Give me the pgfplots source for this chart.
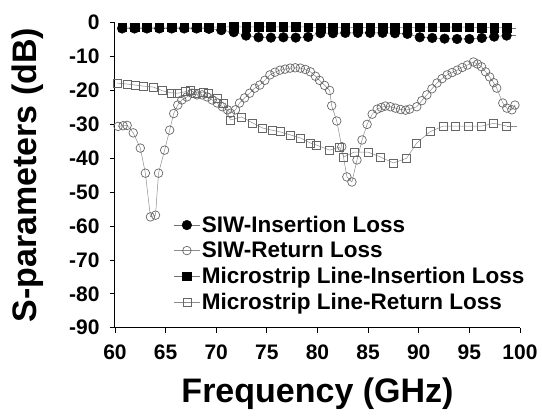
\documentclass[border=0pt]{standalone}
\usepackage{fontspec}
\setmainfont{Liberation Sans}
\usepackage{pgfplots}
\pgfplotsset{compat=1.18}
\begin{document}
\begin{tikzpicture}
\begin{axis}[
 scale only axis, width=405bp, height=305bp,
 xmin=60, xmax=100, ymin=-90, ymax=0,
 axis x line*=bottom, axis y line*=left,
 axis line style={-, line width=1pt},
 xtick={60,65,...,100}, ytick={-90,-80,...,0},
 tick align=outside, major tick length=5bp,
 tick style={black, line width=0.8pt},
 /pgf/number format/assume math mode=true,
 ticklabel style={font=\fontsize{21bp}{24bp}\selectfont\bfseries},
 yticklabel style={xshift=-7bp},
 xticklabel style={yshift=-9bp},
 xlabel={Frequency (GHz)}, ylabel={S-parameters (dB)},
 label style={font=\fontsize{34bp}{40bp}\selectfont\bfseries},
 xlabel style={at={(axis description cs:0.5,-0.215)}, anchor=center},
 ylabel style={at={(axis description cs:-0.215,0.5)}, anchor=center},
 legend style={at={(axis cs:65.5,-56.0)}, anchor=north west, draw=none, fill=none,
   font=\fontsize{22.5bp}{25bp}\selectfont\bfseries, row sep=5bp,
   nodes={inner ysep=1.5bp}},
 legend image code/.code={
   \draw[mark repeat=2,mark phase=2] plot coordinates {(0cm,0cm) (0.45cm,0cm) (0.9cm,0cm)};},
 legend cell align=left,
]
% SIW insertion loss
\addplot[black!55, line width=0.5pt, mark=*, mark size=4.8bp, mark options={solid, fill=black, draw=black}] coordinates {
(60.70,-1.7) (61.93,-1.7) (63.15,-1.7) (64.38,-1.7) (65.60,-1.7) (66.83,-1.7) (68.05,-1.7) (69.28,-1.8)
(70.50,-2.2) (71.73,-2.8) (72.95,-3.8) (74.18,-4.3) (75.40,-4.4) (76.63,-4.3) (77.85,-4.4) (79.08,-4.2)
(80.30,-3.1) (81.53,-3.1) (82.75,-3.0) (83.98,-3.0) (85.20,-3.0) (86.43,-3.0) (87.65,-3.1) (88.88,-3.3)
(90.10,-4.3) (91.33,-4.5) (92.55,-4.7) (93.78,-4.8) (95.00,-4.8) (96.23,-4.5) (97.45,-4.1) (98.68,-3.8)
};
\addlegendentry{SIW-Insertion Loss}
% SIW return loss
\addplot[black!45, line width=0.5pt, mark=o, mark size=4.3bp, mark options={solid, draw=black!60, line width=0.7pt}] coordinates {
(60.3,-30.6) (60.8,-30.4) (61.2,-30.3) (61.8,-32.5) (62.5,-37.0) (63.0,-44.4) (63.5,-57.3) (64.0,-56.8)
(64.3,-44.4) (64.9,-37.6) (65.4,-31.7) (65.8,-26.8) (66.2,-24.3) (66.6,-22.8) (67.1,-21.9) (67.6,-20.8)
(68.1,-21.3) (68.6,-21.3) (69.1,-21.9) (69.6,-22.8) (70.1,-23.7) (70.6,-24.8) (71.1,-25.7) (71.4,-26.7)
(71.9,-25.7) (72.3,-23.7) (72.8,-22.2) (73.3,-20.8) (73.8,-19.3) (74.3,-18.4) (74.8,-17.0) (75.3,-15.4)
(75.8,-14.6) (76.3,-14.0) (76.8,-13.7) (77.3,-13.4) (77.8,-13.3) (78.3,-13.4) (78.8,-13.8) (79.3,-14.5)
(79.8,-15.8) (80.2,-17.0) (80.7,-18.5) (81.2,-20.0) (81.4,-24.5) (81.9,-29.0) (82.4,-36.6) (82.9,-45.5)
(83.4,-47.0) (83.9,-40.5) (84.4,-34.6) (84.9,-30.0) (85.4,-27.0) (85.9,-25.5) (86.3,-25.0) (86.7,-24.6)
(87.2,-24.8) (87.7,-25.2) (88.2,-25.6) (88.7,-25.8) (89.1,-25.5) (89.8,-24.8) (90.3,-23.0) (90.8,-21.3)
(91.3,-19.5) (91.8,-17.8) (92.3,-16.5) (92.8,-15.4) (93.3,-14.7) (93.8,-14.0) (94.3,-13.2) (94.8,-12.5)
(95.4,-11.6) (95.8,-12.2) (96.2,-13.0) (96.6,-14.5) (97.0,-16.0) (97.4,-17.7) (97.7,-19.3) (98.3,-23.7)
(98.7,-25.2) (99.2,-25.7) (99.5,-24.3)
};
\addlegendentry{SIW-Return Loss}
% Microstrip insertion loss
\addplot[black!55, line width=0.5pt, mark=square*, mark size=4.3bp, mark options={solid, fill=black, draw=black}] coordinates {
(60.70,-1.3) (61.93,-1.3) (63.15,-1.3) (64.38,-1.3) (65.60,-1.3) (66.83,-1.3) (68.05,-1.3) (69.28,-1.3)
(70.50,-1.3) (71.73,-1.2) (72.95,-1.2) (74.18,-1.2) (75.40,-1.2) (76.63,-1.2) (77.85,-1.2) (79.08,-1.3)
(80.30,-1.4) (81.53,-1.4) (82.75,-1.4) (83.98,-1.4) (85.20,-1.4) (86.43,-1.4) (87.65,-1.4) (88.88,-1.4)
(90.10,-1.3) (91.33,-1.3) (92.55,-1.3) (93.78,-1.3) (95.00,-1.3) (96.23,-1.4) (97.45,-1.4) (98.68,-1.5)
};
\addlegendentry{Microstrip Line-Insertion Loss}
% Microstrip return loss
\addplot[black!45, line width=0.5pt, mark=square, mark size=4.0bp, mark options={solid, draw=black!60, line width=0.7pt}] coordinates {
(60.2,-17.8) (61.2,-18.1) (62.0,-18.4) (62.8,-18.7) (63.8,-19.0) (64.7,-20.1) (65.6,-20.7) (66.2,-20.8)
(66.9,-20.4) (67.4,-19.9) (67.9,-20.7) (68.7,-20.5) (69.2,-20.8) (70.1,-22.2) (70.7,-23.7) (71.4,-28.7)
(72.5,-27.8) (73.6,-29.6) (74.6,-31.1) (75.5,-31.7) (76.3,-32.2) (77.3,-33.1) (78.3,-34.0) (79.3,-35.5)
(79.9,-36.1) (81.2,-37.6) (82.2,-36.7) (82.6,-39.6) (83.6,-38.2) (85.0,-38.2) (86.2,-39.6) (87.5,-41.4)
(88.8,-40.0) (89.8,-35.5) (91.1,-32.2) (92.4,-30.5) (93.6,-30.5) (94.9,-30.5) (96.2,-30.5) (97.4,-29.7)
(98.7,-30.5)
};
\addlegendentry{Microstrip Line-Return Loss}
% line ends beyond last markers
\addplot[black!55, line width=0.5pt, forget plot] coordinates {(98.68,-3.8) (99.6,-3.8)};
\addplot[black!55, line width=0.5pt, forget plot] coordinates {(98.68,-1.5) (99.6,-1.5)};
\addplot[black!45, line width=0.5pt, forget plot] coordinates {(98.7,-30.5) (99.7,-30.5)};
\end{axis}
\pgfresetboundingbox
\path[use as bounding box] (current axis.south west) ++(-115bp,-92.3bp) rectangle ++(542bp,420bp);
\end{tikzpicture}
\end{document}
